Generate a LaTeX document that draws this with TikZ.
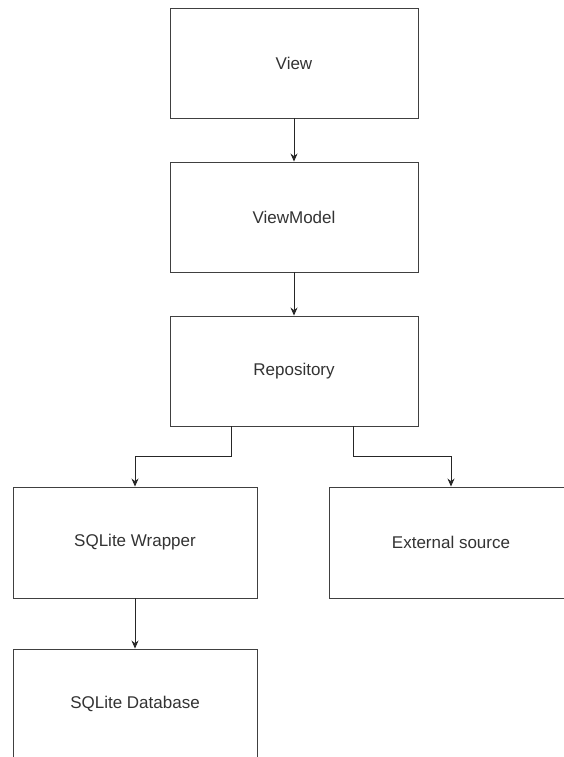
\documentclass[tikz,border=0pt]{standalone}
\usepackage{fontspec}
\setmainfont{Liberation Sans}
\usetikzlibrary{arrows.meta,calc}
\begin{document}
\begin{tikzpicture}[x=1pt,y=-1pt,
  block/.style={draw=black!75,line width=0.9pt,minimum width=248pt,minimum height=110pt,
    inner sep=0pt,font=\fontsize{17}{20}\selectfont,text=black!80},
  wide/.style={block,minimum width=244pt,minimum height=111pt},
  link/.style={draw=black!85,line width=0.9pt,-{Stealth[length=8pt,width=7pt]}}]
\useasboundingbox (0,0) rectangle (564,757);
\clip (0,0) rectangle (564,757);
\fill[white] (0,0) rectangle (564,757);
% layered stack
\node[block] (view) at (294,63) {View};
\node[block] (vm) at (294,217) {ViewModel};
\node[block] (repo) at (294,371) {Repository};
\node[wide] (wrap) at (135,542.5) {SQLite Wrapper};
\node[wide] (ext) at (451,542.5) {External source};
\node[wide,minimum height=110pt] (db) at (135,704) {SQLite Database};
% connectors
\draw[link] (view) -- (vm);
\draw[link] (vm) -- (repo);
\coordinate (rl) at ($(repo.south)+(-63,0)$);
\coordinate (rr) at ($(repo.south)+(59,0)$);
\draw[link] (rl) |- ($(wrap.north)+(0,-30)$) -- (wrap.north);
\draw[link] (rr) |- ($(ext.north)+(0,-30)$) -- (ext.north);
\draw[link] (wrap) -- (db);
\end{tikzpicture}
\end{document}
